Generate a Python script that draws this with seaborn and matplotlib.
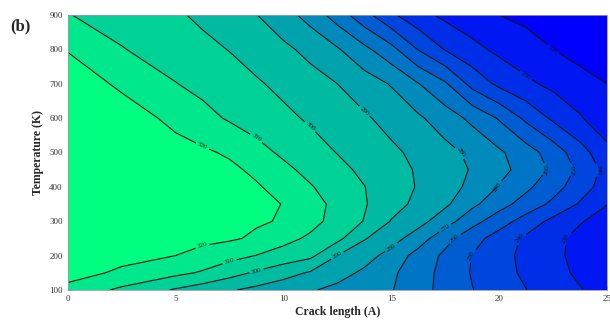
import numpy as np
import matplotlib
matplotlib.use("Agg")
import matplotlib.pyplot as plt
import seaborn as sns

crack_length = [0, 2.5, 5, 6.25, 7.5, 8.75, 10, 11.25, 12.5, 13.75, 15,
                16.25, 17.5, 18.75, 20, 21.25, 22.5, 23.75, 25]
temperature = [100, 150, 200, 250, 300, 350, 400, 450, 500, 600, 700, 800, 900]

# values, one row per temperature
t100 = [317.0, 308.1, 299.0, 295.0, 291.0, 287.5, 284.2, 280.9, 277.5, 274.0,
        270.6, 263.8, 256.8, 250.3, 245.2, 240.2, 235.4, 230.6, 225.8]
t150 = [324.0, 318.3, 312.4, 309.0, 303.8, 298.7, 293.8, 289.0, 283.8, 278.2,
        271.8, 264.5, 256.9, 249.3, 243.6, 238.2, 233.2, 228.2, 223.2]
t200 = [325.5, 323.0, 320.0, 316.6, 313.2, 309.8, 306.1, 302.3, 290.0, 284.0,
        276.4, 266.3, 258.0, 249.7, 243.3, 237.5, 232.3, 227.1, 222.2]
t250 = [326.5, 325.0, 323.5, 322.5, 321.3, 318.5, 313.0, 308.4, 302.7, 290.7,
        284.0, 275.0, 263.3, 253.9, 245.6, 238.4, 232.7, 227.1, 222.4]
t300 = [327.0, 326.0, 324.5, 323.5, 322.5, 321.0, 319.3, 313.0, 306.7, 299.6,
        289.5, 283.6, 274.4, 263.5, 254.7, 245.8, 237.4, 230.8, 226.0]
t350 = [327.0, 326.0, 325.0, 324.0, 323.0, 321.8, 319.8, 313.7, 307.4, 300.8,
        293.9, 287.5, 281.8, 272.3, 263.8, 255.9, 247.9, 239.0, 230.3]
t400 = [327.0, 326.0, 324.5, 323.5, 322.5, 321.0, 316.4, 310.7, 305.4, 300.2,
        294.8, 289.3, 283.9, 277.7, 269.4, 262.1, 254.0, 244.6, 235.5]
t450 = [327.0, 325.5, 324.0, 323.0, 322.0, 318.0, 312.3, 307.2, 302.6, 298.0,
        293.6, 289.0, 284.2, 279.3, 273.0, 266.2, 258.3, 247.7, 236.8]
t500 = [327.0, 325.0, 323.0, 321.5, 318.7, 313.3, 308.3, 304.0, 299.7, 295.8,
        291.9, 287.6, 283.0, 277.8, 271.5, 264.4, 255.5, 244.1, 233.0]
t600 = [326.5, 324.5, 317.8, 313.1, 308.9, 305.5, 302.2, 298.7, 295.0, 291.3,
        286.7, 281.5, 275.0, 267.7, 259.1, 247.9, 238.2, 230.9, 223.5]
t700 = [325.5, 318.4, 310.3, 307.2, 304.1, 301.1, 297.6, 293.8, 290.0, 284.8,
        279.3, 270.4, 261.3, 246.8, 237.7, 232.0, 227.6, 223.8, 220.0]
t800 = [319.5, 310.5, 305.1, 302.4, 299.7, 295.9, 292.1, 287.3, 281.0, 272.5,
        263.1, 249.6, 239.5, 232.9, 227.8, 223.9, 220.0, 216.3, 212.5]
t900 = [310.4, 305.8, 301.3, 298.2, 294.2, 290.2, 284.0, 276.3, 265.5, 253.5,
        241.8, 233.4, 227.8, 223.9, 220.0, 217.8, 215.5, 213.2, 211.0]

levels = [220, 230, 240, 250, 260, 270, 280, 290, 300, 310, 320]

sns.set_style("ticks")
plt.rcParams["font.family"] = ["Liberation Serif", "DejaVu Serif"]

z = np.array([t100, t150, t200, t250, t300, t350, t400, t450, t500,
              t600, t700, t800, t900])
temps = np.array(temperature)

fig, ax = plt.subplots(figsize=(6.1, 3.2), dpi=100)
fig.subplots_adjust(left=0.111, right=0.995, bottom=0.094, top=0.953)

fill_levels = [z.min() - 1] + levels + [z.max() + 1]
band_colors = plt.cm.winter(np.linspace(0, 1, len(fill_levels) - 1))
ax.contourf(crack_length, temperature, z, levels=fill_levels, colors=band_colors)

# lines drawn in two halves (sharing the 400 K row) so each line gets
# a label on its lower and upper branch, like the original
lower = temps <= 400
upper = temps >= 400
for rows in (lower, upper):
    cs = ax.contour(crack_length, temps[rows], z[rows], levels=levels,
                    colors="#111111", linewidths=0.8)
    ax.clabel(cs, fmt="%d", fontsize=5, inline=True, inline_spacing=2)

ax.set_xlim(0, 25)
ax.set_ylim(100, 900)
ax.set_xticks([0, 5, 10, 15, 20, 25])
ax.set_yticks(range(100, 1000, 100))
ax.tick_params(direction="in", length=3, width=0.5, labelsize=6.5,
               colors="#555555", labelcolor="#333333")
for s in ax.spines.values():
    s.set_linewidth(0.6)
    s.set_color("#9a9ab0")

ax.set_xlabel("Crack length (A)", fontsize=8.5, fontweight="bold", labelpad=2)
ax.set_ylabel("Temperature (K)", fontsize=8.5, fontweight="bold", labelpad=4)
fig.text(0.016, 0.905, "(b)", fontsize=12, fontweight="bold")

fig.savefig("out.png", dpi=100)
